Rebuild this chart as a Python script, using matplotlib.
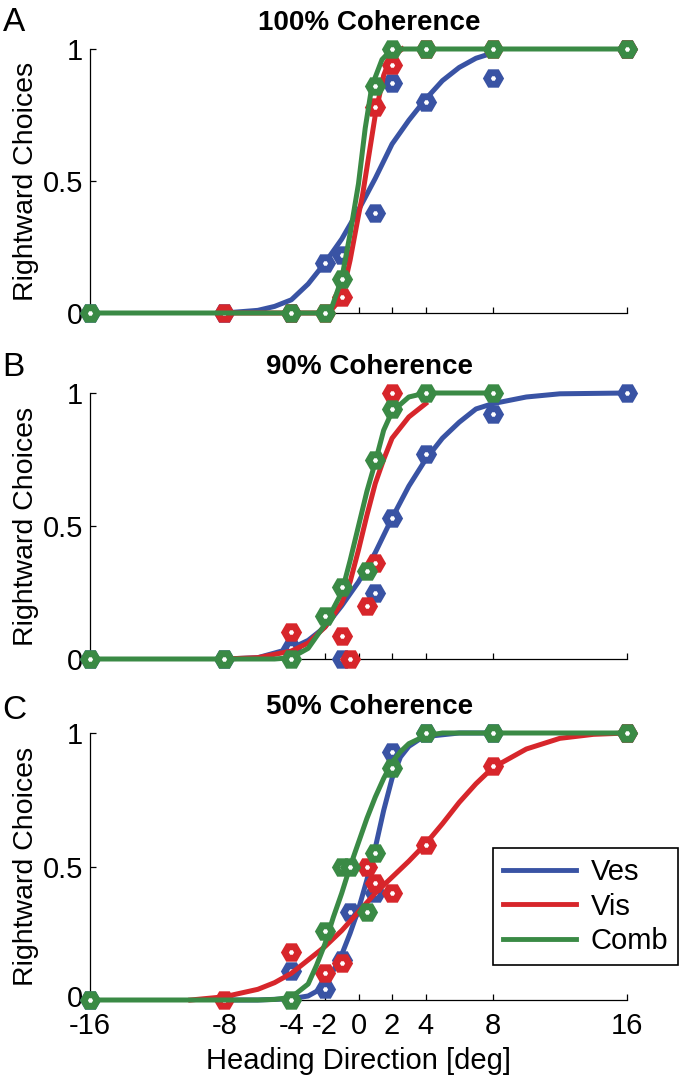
import matplotlib
matplotlib.use('Agg')
import matplotlib.pyplot as plt
from matplotlib.lines import Line2D
from matplotlib.transforms import ScaledTranslation

# heading axis
heading_ticks = [-16, -8, -4, -2, 0, 2, 4, 8, 16]
heading_labels = ['-16', '-8', '-4', '-2', '0', '2', '4', '8', '16']
choice_ticks = [0, 0.5, 1]
choice_labels = ['0', '0.5', '1']

titles = ['100% Coherence', '90% Coherence', '50% Coherence']
panel_letters = ['A', 'B', 'C']
conditions = ['Ves', 'Vis', 'Comb']

# --- panel A (100% coherence) ---
a_ves_x = [-16, -8, -4, -2, -1, 1, 2, 4, 8, 16]
a_ves_y = [0, 0, 0, 0.19, 0.22, 0.38, 0.87, 0.80, 0.89, 1.0]
a_ves_fit_x = [-8, -6, -5, -4, -3, -2, -1, 0, 0.5, 1, 2, 3, 4, 5, 6, 7, 8]
a_ves_fit_y = [0.0, 0.01, 0.025, 0.05, 0.11, 0.19, 0.28, 0.39, 0.45, 0.51, 0.64, 0.73, 0.81, 0.88, 0.93, 0.965, 0.985]

a_vis_x = [-8, -4, -2, -1, 1, 2, 4, 8, 16]
a_vis_y = [0, 0, 0, 0.06, 0.78, 0.94, 1, 1, 1]
a_vis_fit_x = [-8, -4, -2, -1.5, -1, -0.5, 0, 0.25, 0.5, 1, 1.5, 1.8, 2.2, 2.6]
a_vis_fit_y = [0, 0, 0.0, 0.02, 0.06, 0.2, 0.37, 0.45, 0.55, 0.75, 0.9, 0.95, 0.98, 1.0]

a_comb_x = [-16, -4, -2, -1, 1, 2, 4, 8, 16]
a_comb_y = [0, 0, 0, 0.13, 0.86, 1, 1, 1, 1]
a_comb_fit_x = [-16, -2, -1.6, -1, -0.5, 0, 0.4, 0.8, 1.4, 2, 16]
a_comb_fit_y = [0, 0, 0.02, 0.13, 0.3, 0.49, 0.7, 0.86, 0.96, 1.0, 1.0]

# --- panel B (90% coherence) ---
b_ves_x = [-16, -8, -4, -1, 1, 2, 4, 8, 16]
b_ves_y = [0, 0, 0.04, 0, 0.25, 0.53, 0.77, 0.92, 1.0]
b_ves_fit_x = [-8, -6, -4, -3, -2, -1, 0, 1, 2, 3, 4, 5, 6, 7, 8, 10, 12, 16]
b_ves_fit_y = [0, 0.005, 0.04, 0.07, 0.12, 0.2, 0.29, 0.4, 0.53, 0.65, 0.75, 0.83, 0.89, 0.94, 0.96, 0.985, 0.997, 1.0]

b_vis_x = [-4, -1, -0.5, 0.5, 1, 2]
b_vis_y = [0.1, 0.085, 0, 0.2, 0.36, 1.0]
b_vis_fit_x = [-8, -6, -4, -3, -2, -1, -0.5, 0, 0.5, 1, 1.5, 2, 3, 4]
b_vis_fit_y = [0, 0.005, 0.03, 0.06, 0.12, 0.21, 0.29, 0.41, 0.54, 0.66, 0.75, 0.83, 0.91, 0.96]

b_comb_x = [-16, -8, -4, -2, -1, 0.5, 1, 2, 4, 8]
b_comb_y = [0, 0, 0, 0.16, 0.27, 0.33, 0.75, 0.94, 1, 1]
b_comb_fit_x = [-16, -5, -4, -3, -2, -1, -0.5, 0, 0.5, 1, 1.5, 2, 3, 4, 8]
b_comb_fit_y = [0, 0, 0.005, 0.04, 0.13, 0.25, 0.37, 0.5, 0.63, 0.74, 0.86, 0.93, 0.985, 1.0, 1.0]

# --- panel C (50% coherence) ---
c_ves_x = [-16, -4, -2, -1, -0.5, 1, 2, 4, 8, 16]
c_ves_y = [0, 0.11, 0.04, 0.15, 0.33, 0.4, 0.93, 1, 1, 1]
c_ves_fit_x = [-8, -6, -4, -3, -2, -1, -0.5, 0, 0.5, 1, 1.5, 2, 2.5, 3, 3.6, 4.5, 6, 8]
c_ves_fit_y = [0, 0, 0.005, 0.015, 0.05, 0.17, 0.25, 0.34, 0.45, 0.57, 0.71, 0.83, 0.91, 0.95, 0.975, 0.99, 1.0, 1.0]

c_vis_x = [-8, -4, -2, -1, 0.5, 1, 2, 4, 8, 16]
c_vis_y = [0, 0.18, 0.1, 0.14, 0.5, 0.44, 0.40, 0.58, 0.875, 1.0]
c_vis_fit_x = [-10, -8, -6, -5, -4, -3, -2, -1, 0, 1, 2, 3, 4, 5, 6, 7, 8, 10, 12, 14, 16]
c_vis_fit_y = [0, 0.012, 0.04, 0.065, 0.1, 0.15, 0.2, 0.26, 0.33, 0.4, 0.46, 0.52, 0.585, 0.66, 0.74, 0.81, 0.87, 0.94, 0.98, 0.995, 1.0]

c_comb_x = [-16, -4, -2, -1, -0.5, 0.5, 1, 2, 4, 8, 16]
c_comb_y = [0, 0, 0.26, 0.5, 0.5, 0.33, 0.55, 0.87, 1, 1, 1]
c_comb_fit_x = [-16, -6, -5, -4, -3, -2.5, -2, -1.5, -1, -0.5, 0, 0.5, 1, 1.5, 2, 2.5, 3, 4, 5, 16]
c_comb_fit_y = [0, 0, 0.002, 0.01, 0.06, 0.13, 0.21, 0.31, 0.4, 0.5, 0.59, 0.68, 0.76, 0.83, 0.89, 0.93, 0.96, 0.99, 1.0, 1.0]

colors = {'Ves': '#3953a4', 'Vis': '#d7262b', 'Comb': '#3a8a45'}

panels = [
    {'Ves': (a_ves_x, a_ves_y, a_ves_fit_x, a_ves_fit_y),
     'Vis': (a_vis_x, a_vis_y, a_vis_fit_x, a_vis_fit_y),
     'Comb': (a_comb_x, a_comb_y, a_comb_fit_x, a_comb_fit_y)},
    {'Ves': (b_ves_x, b_ves_y, b_ves_fit_x, b_ves_fit_y),
     'Vis': (b_vis_x, b_vis_y, b_vis_fit_x, b_vis_fit_y),
     'Comb': (b_comb_x, b_comb_y, b_comb_fit_x, b_comb_fit_y)},
    {'Ves': (c_ves_x, c_ves_y, c_ves_fit_x, c_ves_fit_y),
     'Vis': (c_vis_x, c_vis_y, c_vis_fit_x, c_vis_fit_y),
     'Comb': (c_comb_x, c_comb_y, c_comb_fit_x, c_comb_fit_y)},
]

plt.rcParams['font.family'] = ['Liberation Sans', 'DejaVu Sans']

W, H = 680, 1078
fig = plt.figure(figsize=(W / 100, H / 100), dpi=100)

# axes boxes in pixels: (top, bottom)
boxes = [(49, 313), (393, 659), (733, 1000)]
left_px, right_px = 90, 627
letter_base = [31, 376, 719]

for i, (top, bottom) in enumerate(boxes):
    ax = fig.add_axes([left_px / W, 1 - bottom / H, (right_px - left_px) / W, (bottom - top) / H])
    z = 2
    for cond in conditions:
        px, py, fx, fy = panels[i][cond]
        c = colors[cond]
        ax.plot(fx, fy, color=c, lw=3.6, zorder=z, clip_on=False)
        ax.plot(px, py, ls='none', marker='H', ms=9.5, mew=5, mfc='white', mec=c,
                zorder=z + 1, clip_on=False)
        z += 2

    ax.set_xlim(-16, 16)
    ax.set_ylim(0, 1)
    ax.spines['top'].set_visible(False)
    ax.spines['right'].set_visible(False)
    for s in ['left', 'bottom']:
        ax.spines[s].set_linewidth(0.9)
    ax.set_xticks(heading_ticks)
    ax.set_yticks(choice_ticks)
    ax.set_yticklabels(choice_labels)
    ax.tick_params(direction='in', length=4, width=0.9, labelsize=21, pad=5)
    ax.tick_params(axis='x', pad=9)
    if i == 2:
        ax.set_xticklabels(heading_labels)
        ax.set_xlabel('Heading Direction [deg]', fontsize=21, labelpad=5)
        # nudge the bottom y label up a little so it clears "-16"
        zero_lbl = ax.get_yticklabels()[0]
        zero_lbl.set_transform(zero_lbl.get_transform() +
                               ScaledTranslation(0, 4 / 100, fig.dpi_scale_trans))
    else:
        ax.tick_params(labelbottom=False)
    ax.set_ylabel('Rightward Choices', fontsize=20.5)
    ax.yaxis.set_label_coords(-0.095, 0.5)
    ax.set_title(titles[i], fontsize=20, fontweight='bold', pad=14, x=0.52)
    fig.text(0.004, 1 - letter_base[i] / H, panel_letters[i], fontsize=24, va='baseline')

    if i == 2:
        handles = [Line2D([0], [0], color=colors[c], lw=3.5) for c in conditions]
        leg = ax.legend(handles, conditions, loc='upper left', bbox_to_anchor=(0.750, 0.569),
                        borderaxespad=0, fontsize=21, handlelength=2.5, handletextpad=0.5,
                        labelspacing=0.22, borderpad=0.35, fancybox=False, framealpha=1,
                        edgecolor='black')
        leg.get_frame().set_linewidth(1.2)
        leg.set_zorder(20)

fig.savefig('out.png', dpi=100)
